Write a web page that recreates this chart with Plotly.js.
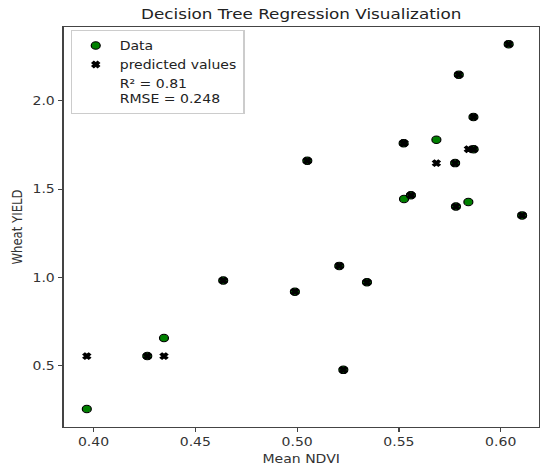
<!DOCTYPE html>
<html>
<head>
<meta charset="utf-8">
<script src="https://cdn.plot.ly/plotly-3.0.1.min.js"></script>
<style>
  html, body { margin: 0; padding: 0; background: #fff; overflow: hidden; }
  /* the figure is laid out at 450 px and widened to fill the 540 px frame */
  #chart { width: 450px; height: 468px; transform: scaleX(1.2); transform-origin: 0 0; }
</style>
</head>
<body>
<div id="chart"></div>
<script>
// Mean NDVI per field and the observed wheat yield
const meanNdvi = [0.3967, 0.4264, 0.4346, 0.4637, 0.4989, 0.5050, 0.5207, 0.5227, 0.5343, 0.5523, 0.5525,
                  0.5559, 0.5684, 0.5776, 0.5780, 0.5794, 0.5841, 0.5866, 0.5867, 0.6039, 0.6105];
const wheatYield = [0.256, 0.555, 0.657, 0.983, 0.920, 1.661, 1.066, 0.477, 0.973, 1.761, 1.445,
                    1.466, 1.780, 1.648, 1.402, 2.149, 1.428, 1.909, 1.727, 2.322, 1.352];
// Decision tree predictions at the same NDVI values
const predictedYield = [0.555, 0.555, 0.555, 0.983, 0.920, 1.661, 1.066, 0.477, 0.973, 1.761, 1.761,
                        1.466, 1.648, 1.648, 1.402, 2.149, 1.727, 1.909, 1.727, 2.322, 1.352];
const r2 = 0.81;
const rmse = 0.248;
const xTicks = [0.40, 0.45, 0.50, 0.55, 0.60];
const xTickText = ["0.40", "0.45", "0.50", "0.55", "0.60"];
const yTicks = [0.5, 1.0, 1.5, 2.0];
const yTickText = ["0.5", "1.0", "1.5", "2.0"];

const font = "DejaVu Sans, sans-serif";
const txt = "#333";
const fs = 11.7;

const traces = [
  {
    x: meanNdvi, y: wheatYield, type: "scatter", mode: "markers", name: "Data",
    marker: { symbol: "circle", size: 7.5, color: "#008000", line: { color: "#000", width: 1 } }
  },
  {
    x: meanNdvi, y: predictedYield, type: "scatter", mode: "markers", name: "predicted values",
    marker: { symbol: "x", size: 5.5, color: "#000", line: { color: "#000", width: 1.2 } }
  },
  {
    // score summary shown as a marker-less legend entry
    x: [null], y: [null], type: "scatter", mode: "markers",
    name: "R\u00b2 = " + r2.toFixed(2) + "<br>RMSE = " + rmse.toFixed(3),
    marker: { color: "rgba(0,0,0,0)", size: 1, line: { width: 0 } }, hoverinfo: "skip"
  }
];

const axisBase = {
  showgrid: false, zeroline: false, showline: true, mirror: true,
  linecolor: "#444", linewidth: 1, ticks: "outside", ticklen: 4, tickcolor: "#444",
  tickfont: { family: font, size: fs, color: txt }
};

const layout = {
  width: 450, height: 468,
  margin: { l: 53.3, r: 1, t: 27, b: 41 },
  paper_bgcolor: "#fff", plot_bgcolor: "#fff",
  font: { family: font, color: txt },
  title: {
    text: "Decision Tree Regression Visualization",
    font: { family: font, size: 14, color: "#222" },
    x: 0.5, xref: "paper", y: 0.97, yref: "container", yanchor: "middle"
  },
  xaxis: Object.assign({}, axisBase, {
    range: [0.3853, 0.6187], tickvals: xTicks, ticktext: xTickText,
    title: { text: "Mean NDVI", font: { family: font, size: fs, color: txt }, standoff: 6 }
  }),
  yaxis: Object.assign({}, axisBase, {
    range: [0.1534, 2.419], tickvals: yTicks, ticktext: yTickText,
    title: { text: "Wheat YIELD", font: { family: font, size: fs, color: txt }, standoff: 5 }
  }),
  showlegend: true,
  legend: {
    x: 0.0146, y: 0.9925, xanchor: "left", yanchor: "top",
    bgcolor: "#fff", bordercolor: "#ccc", borderwidth: 1,
    font: { family: font, size: fs, color: "#222" },
    tracegroupgap: 0
  }
};

Plotly.newPlot("chart", traces, layout, { displayModeBar: false, staticPlot: true });
</script>
</body>
</html>
